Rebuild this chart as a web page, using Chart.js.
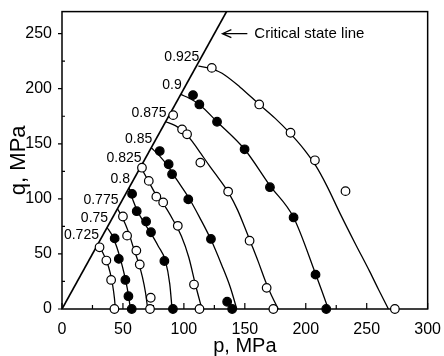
<!DOCTYPE html>
<html lang="en">
<head>
<meta charset="UTF-8">
<title>Yield curves and critical state line</title>
<script src="https://cdn.jsdelivr.net/npm/chart.js@4.4.0/dist/chart.umd.min.js"></script>
<style>
  html, body { margin: 0; padding: 0; background: #fff; }
  .chart-box { position: relative; width: 444px; height: 356px; }
</style>
</head>
<body>
<div class="chart-box"><canvas id="yieldChart"></canvas></div>
<script>
// void ratio of each yield curve, smallest first
const voidRatios = ['0.725', '0.75', '0.775', '0.8', '0.825', '0.85', '0.875', '0.9', '0.925'];

// critical state line, [p, q] in MPa
const cslLine = [[0, 0], [135, 270]];

// fitted yield curves, [p, q]
const fit0725 = [[29.5, 59], [33.5, 51], [36.6, 43.5], [39.5, 33], [41.5, 22], [43, 10], [43.8, 0]];
const fit0750 = [[37, 74], [41.5, 66], [45, 56], [48, 45], [51, 32], [53.5, 19], [55, 9], [56.1, 0]];
const fit0775 = [[45.5, 91], [50, 82], [54.5, 70], [58.5, 56], [62.5, 43], [66, 29], [68.5, 15], [70.3, 0]];
const fit0800 = [[55, 110], [58.5, 98], [62.1, 88.5], [67, 79], [72.5, 69.5], [79, 57], [84.8, 43.9], [88.4, 22.8], [90.3, 0]];
const fit0825 = [[64.5, 129], [71, 116], [77.5, 103], [84, 94], [91, 81], [98, 66], [104, 47], [109.4, 22.5], [114.8, 0]];
const fit0850 = [[73.2, 146.4], [80, 139], [86, 131], [95, 116], [104, 101], [113, 83], [122, 63.5], [131, 40], [138, 20], [143.4, 0]];
const fit0875 = [[85, 170], [93, 166.5], [100, 161], [107, 152], [114, 141], [121, 130], [129, 118], [137, 105], [144, 90], [150, 74], [155, 60], [161, 43], [167, 25], [172, 12], [177.5, 0]];
const fit0900 = [[97.4, 194.8], [105, 191], [112.7, 185.7], [127.2, 170], [149.8, 145], [170.6, 112], [190, 83.1], [208, 32], [213, 17], [218.5, 0]];
const fit0925 = [[111.9, 220.4], [122.9, 218.1], [131.3, 214], [146.1, 201.4], [161.6, 186], [174.7, 173.3], [187, 159.7], [198.4, 145.2], [208.3, 129.9], [217.3, 111.8], [227.9, 87.3], [240.2, 60.2], [252.5, 33.9], [260, 17], [267.8, 0]];

// measured yield points, [p, q]
const test0725 = [[30.8, 56], [36.4, 44], [40.3, 26.4], [43, 0]];
const test0750 = [[43.2, 64.1], [46.6, 45.5], [52, 26.4], [54.5, 11.6], [57.2, 0]];
const test0775 = [[50, 84], [53.4, 66.6], [61, 53], [63.8, 40.4], [72.8, 10.2], [72.2, 0]];
const test0800 = [[57.5, 104.5], [61.3, 88.8], [69, 79.5], [73, 69.7], [84, 43.6], [91, 0]];
const test0825 = [[65.6, 128.3], [71.2, 116.3], [77.4, 102], [83, 96.8], [95, 75.5], [108.3, 22.2], [112.8, 0]];
const test0850 = [[80.2, 143.4], [87.5, 131.4], [90.3, 122.4], [103.6, 99.5], [122.2, 63.6], [135.5, 6.6], [139.6, 0]];
const test0875 = [[91.2, 176], [98.5, 163.1], [102.6, 158.6], [113.5, 132.9], [136.3, 106.6], [153.9, 62], [167.9, 19.2], [173.4, 0]];
const test0900 = [[107.5, 194.2], [112.7, 185.7], [127.2, 170], [149.8, 145], [170.6, 110.6], [190, 83.1], [208, 31.2], [216.8, 0]];
const test0925 = [[122.9, 218.9], [161.8, 185.7], [187.5, 160], [207.5, 135], [232.6, 107], [273.1, 0]];

const xTicks = [0, 50, 100, 150, 200, 250, 300];
const yTicks = [0, 50, 100, 150, 200, 250];

const fitCurves = [fit0725, fit0750, fit0775, fit0800, fit0825, fit0850, fit0875, fit0900, fit0925];
const testPoints = [test0725, test0750, test0775, test0800, test0825, test0850, test0875, test0900, test0925];

const FONT = "'Liberation Sans', Arial, sans-serif";
Chart.defaults.font.family = FONT;
Chart.defaults.color = '#000';

const toXY = pts => pts.map(([p, q]) => ({ x: p, y: q }));

const datasets = [{
    data: toXY(cslLine),
    showLine: true,
    borderColor: '#000',
    borderWidth: 1.7,
    pointRadius: 0,
    order: 2
}];
fitCurves.forEach(curve => {
    datasets.push({
        data: toXY(curve),
        showLine: true,
        borderColor: '#000',
        borderWidth: 1.3,
        pointRadius: 0,
        cubicInterpolationMode: 'monotone',
        order: 1
    });
});
// open and filled markers alternate from one curve to the next
testPoints.forEach((pts, i) => {
    datasets.push({
        data: toXY(pts),
        showLine: false,
        pointRadius: 4.3,
        pointBackgroundColor: i % 2 ? '#000' : '#fff',
        pointBorderColor: '#000',
        pointBorderWidth: 1.2,
        clip: false,
        order: 0
    });
});

// minor ticks halfway between the labelled ones
const withMinor = ticks => {
    const out = [];
    ticks.forEach((v, i) => {
        out.push({ v, major: true });
        if (i < ticks.length - 1) out.push({ v: (v + ticks[i + 1]) / 2, major: false });
    });
    return out;
};

const decorations = {
    id: 'decorations',
    beforeDatasetsDraw(chart) {
        const { ctx, chartArea: a, scales: { x, y } } = chart;
        ctx.save();
        ctx.strokeStyle = '#000';
        ctx.lineWidth = 1.5;
        ctx.strokeRect(a.left, a.top, a.right - a.left, a.bottom - a.top);
        ctx.lineWidth = 1.2;
        ctx.beginPath();
        withMinor(xTicks).forEach(t => {
            const px = x.getPixelForValue(t.v);
            ctx.moveTo(px, a.bottom);
            ctx.lineTo(px, a.bottom - (t.major ? 6 : 4));
        });
        withMinor(yTicks).forEach(t => {
            const py = y.getPixelForValue(t.v);
            if (t.major) {
                ctx.moveTo(a.left - 4, py);
                ctx.lineTo(a.left, py);
            } else {
                ctx.moveTo(a.left, py);
                ctx.lineTo(a.left + 3, py);
            }
        });
        ctx.stroke();
        ctx.restore();
    },
    afterDatasetsDraw(chart) {
        const { ctx, scales: { x, y } } = chart;
        ctx.save();
        ctx.fillStyle = '#000';
        ctx.strokeStyle = '#000';

        // void ratio next to where each curve leaves the CSL
        ctx.font = '14px ' + FONT;
        ctx.textAlign = 'right';
        ctx.textBaseline = 'middle';
        fitCurves.forEach((curve, i) => {
            const [p, q] = curve[0];
            ctx.fillText(voidRatios[i], x.getPixelForValue(p) + 1, y.getPixelForValue(q) - 9);
        });

        // arrow pointing at the CSL
        const [p1, q1] = cslLine[1];
        const qa = 250;
        const ax = x.getPixelForValue(p1 * qa / q1) + 8;
        const ay = y.getPixelForValue(qa);
        ctx.lineWidth = 1.2;
        ctx.beginPath();
        ctx.moveTo(ax, ay);
        ctx.lineTo(ax + 25, ay);
        ctx.moveTo(ax + 9, ay - 4);
        ctx.lineTo(ax, ay);
        ctx.lineTo(ax + 9, ay + 4);
        ctx.stroke();
        ctx.font = '15px ' + FONT;
        ctx.textAlign = 'left';
        ctx.fillText('Critical state line', ax + 32, ay);
        ctx.restore();
    }
};

new Chart(document.getElementById('yieldChart'), {
    type: 'scatter',
    data: { datasets },
    options: {
        responsive: true,
        maintainAspectRatio: false,
        animation: false,
        layout: { padding: { left: 0, right: 16, top: 9, bottom: 0 } },
        plugins: {
            legend: { display: false },
            tooltip: { enabled: false }
        },
        scales: {
            x: {
                type: 'linear',
                min: 0,
                max: 300,
                afterBuildTicks: s => { s.ticks = xTicks.map(v => ({ value: v })); },
                afterFit: s => { s.height = 47; },
                grid: { display: false },
                border: { display: false },
                ticks: { font: { size: 16 }, color: '#000', padding: 3, maxRotation: 0 },
                title: {
                    display: true,
                    text: 'p, MPa',
                    color: '#000',
                    font: { size: 20, lineHeight: 1 },
                    padding: { top: 0, bottom: 0 }
                }
            },
            y: {
                type: 'linear',
                min: 0,
                max: 270,
                afterBuildTicks: s => { s.ticks = yTicks.map(v => ({ value: v })); },
                afterFit: s => { s.width = 62; },
                grid: { display: false },
                border: { display: false },
                ticks: { font: { size: 16 }, color: '#000', padding: 2 },
                title: {
                    display: true,
                    text: 'q, MPa',
                    color: '#000',
                    font: { size: 22, lineHeight: 1 },
                    padding: { top: 8, bottom: 0 }
                }
            }
        }
    },
    plugins: [decorations]
});
</script>
</body>
</html>
